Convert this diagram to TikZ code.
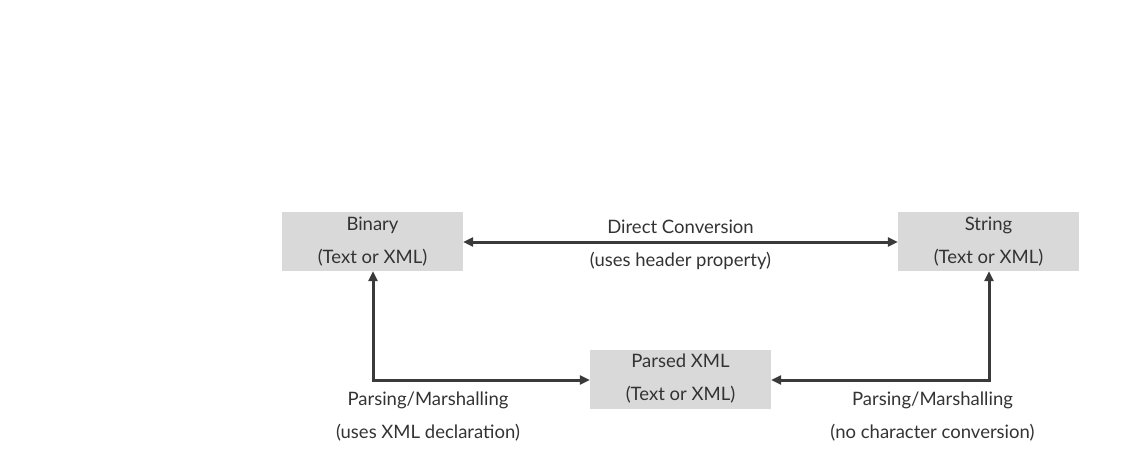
\documentclass[tikz,border=0pt]{standalone}
\usepackage{fontspec}
\setmainfont{Lato}
\usetikzlibrary{arrows.meta}
\definecolor{boxgray}{HTML}{D9D9D9}
\definecolor{txt}{HTML}{333333}
\definecolor{arr}{HTML}{3A3A3A}
\tikzset{
  box/.style={fill=boxgray, minimum width=181pt, minimum height=59pt, inner sep=0pt, align=center, text=txt, font=\fontsize{18.5}{33}\selectfont},
  lbl/.style={align=center, text=txt, font=\fontsize{18.5}{33}\selectfont, inner sep=0pt},
  conn/.style={draw=arr, line width=3pt, {Triangle[length=10pt,width=9pt]}-{Triangle[length=10pt,width=9pt]}},
}
\begin{document}
\begin{tikzpicture}[x=1pt,y=-1pt]
\useasboundingbox (0,0) rectangle (1135,453);
\node[box] (bin) at (372.5,241.5) {Binary\\(Text or XML)};
\node[box] (str) at (988.5,241.5) {String\\(Text or XML)};
\node[box] (xml) at (680.5,379) {Parsed XML\\(Text or XML)};
\draw[conn] (bin.east |- 0,242) -- (str.west |- 0,242);
\node[lbl] (dc) at (680.5,245) {Direct Conversion\\(uses header property)};
\coordinate (lc) at (373,380);
\coordinate (rc) at (989,380);
\draw[conn] (bin.south -| lc) -- (lc) -- (xml.west |- lc);
\draw[conn] (str.south -| rc) -- (rc) -- (xml.east |- rc);
\node[lbl] (lp) at (428,417) {Parsing/Marshalling\\(uses XML declaration)};
\node[lbl] (rp) at (932.5,417) {Parsing/Marshalling\\(no character conversion)};
\end{tikzpicture}
\end{document}
